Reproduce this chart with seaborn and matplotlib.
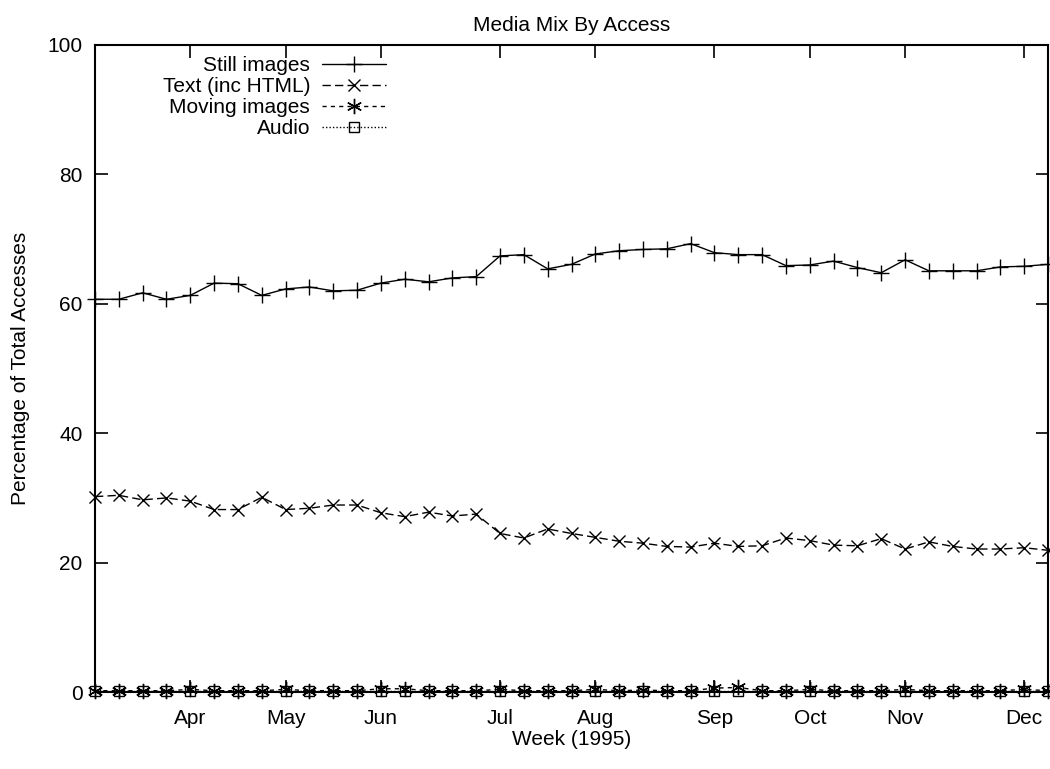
import numpy as np
import pandas as pd
import matplotlib
matplotlib.use("Agg")
import matplotlib.pyplot as plt
import seaborn as sns

weeks = list(range(41))
month_ticks = [4, 8, 12, 17, 21, 26, 30, 34, 39]
month_labels = ["Apr", "May", "Jun", "Jul", "Aug", "Sep", "Oct", "Nov", "Dec"]

still_images = [60.7, 60.7, 61.7, 60.7, 61.3, 63.2, 63.1, 61.3, 62.3, 62.6,
                62.0, 62.1, 63.2, 63.8, 63.4, 64.0, 64.2, 67.4, 67.6, 65.4,
                66.1, 67.7, 68.2, 68.4, 68.5, 69.3, 67.9, 67.6, 67.6, 65.9,
                66.0, 66.6, 65.6, 64.8, 66.8, 65.1, 65.1, 65.1, 65.7, 65.8,
                66.1]
text_html = [30.2, 30.4, 29.7, 30.0, 29.5, 28.2, 28.2, 30.1, 28.2, 28.4,
             28.9, 28.9, 27.7, 27.1, 27.8, 27.2, 27.5, 24.5, 23.8, 25.2,
             24.5, 23.9, 23.3, 23.0, 22.5, 22.4, 23.0, 22.5, 22.6, 23.8,
             23.4, 22.7, 22.6, 23.7, 22.1, 23.2, 22.5, 22.1, 22.1, 22.3,
             21.9]
moving_images = [0.2, 0.2, 0.2, 0.2, 0.4, 0.2, 0.2, 0.2, 0.4, 0.2,
                 0.2, 0.2, 0.5, 0.5, 0.2, 0.2, 0.2, 0.4, 0.2, 0.2,
                 0.2, 0.4, 0.2, 0.3, 0.2, 0.2, 0.6, 0.7, 0.2, 0.2,
                 0.4, 0.2, 0.2, 0.2, 0.4, 0.2, 0.2, 0.2, 0.2, 0.4,
                 0.2]
audio = [0.1] * 41

series = [
    ("Still images", still_images, "+", "-", 11),
    ("Text (inc HTML)", text_html, "x", (0, (6, 3)), 9),
    ("Moving images", moving_images, (6, 2, 0), (0, (3, 3)), 11),
    ("Audio", audio, "s", (0, (1, 1.5)), 7),
]

sns.set_theme(style="white")
plt.rcParams["font.family"] = ["Liberation Sans", "DejaVu Sans"]
plt.rcParams["text.color"] = "black"
plt.rcParams["axes.labelcolor"] = "black"
plt.rcParams["axes.titlecolor"] = "black"

fig = plt.figure(figsize=(10.5, 7.69), dpi=100)
ax = fig.add_axes([95 / 1050, 77 / 769, 953 / 1050, 647 / 769])

for name, vals, mk, ls, ms in series:
    sns.lineplot(x=weeks, y=vals, ax=ax, color="black", marker=mk,
                 linestyle=ls, linewidth=1.0, markersize=ms,
                 markeredgewidth=1.0, markerfacecolor="none",
                 markeredgecolor="black", label=name, clip_on=False)

ax.set_xlim(0, 40)
ax.set_ylim(0, 100)
ax.set_xticks(month_ticks)
ax.set_xticklabels(month_labels)
ax.set_yticks([0, 20, 40, 60, 80, 100])
ax.tick_params(axis="both", direction="in", length=9, width=1.2,
               colors="black", labelsize=15, top=True, right=True,
               bottom=True, left=True)
ax.tick_params(axis="x", pad=12)
ax.tick_params(axis="y", pad=9)
for sp in ax.spines.values():
    sp.set_visible(True)
    sp.set_color("black")
    sp.set_linewidth(1.5)

ax.set_title("Media Mix By Access", fontsize=15, pad=10, color="black")
ax.set_xlabel("Week (1995)", fontsize=15, color="black")
ax.set_ylabel("Percentage of Total Accesses", fontsize=15, color="black")
ax.xaxis.set_label_coords(0.5, -0.059)
ax.yaxis.set_label_coords(-0.068, 0.5)

leg = ax.legend(loc="upper right", bbox_to_anchor=(0.305, 0.983),
                markerfirst=False, frameon=False, fontsize=15,
                handlelength=3.07, handletextpad=0.55, labelspacing=0.1,
                borderaxespad=0.0, borderpad=0.0)
for t in leg.get_texts():
    t.set_color("black")

fig.savefig("out.png", dpi=100)
